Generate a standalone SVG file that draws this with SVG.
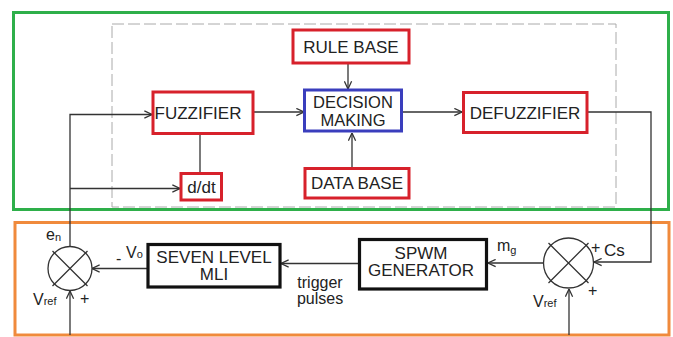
<svg xmlns="http://www.w3.org/2000/svg" width="673" height="337" viewBox="0 0 673 337">
  <style>
    .lbl { font-family: "Liberation Sans", Arial, sans-serif; font-size: 17px; fill: #222; }
    .lbl2 { font-family: "Liberation Sans", Arial, sans-serif; font-size: 16.5px; fill: #222; }
    .sm { font-family: "Liberation Sans", Arial, sans-serif; font-size: 16px; fill: #222; }
    .sub { font-size: 11px; }
    .red { fill: #fff; stroke: #d7212b; stroke-width: 3; }
    .blue { fill: #fff; stroke: #3a3ebd; stroke-width: 3; }
    .blk { fill: #fff; stroke: #111; stroke-width: 3.2; }
    .wire { fill: none; stroke: #333; stroke-width: 1.3; }
    .sum { fill: #fff; stroke: #333; stroke-width: 1.3; }
  </style>
  <defs>
    <marker id="arr" viewBox="0 0 10 10" refX="9.5" refY="5" markerWidth="9" markerHeight="9" markerUnits="userSpaceOnUse" orient="auto">
      <path d="M1,1 L9.5,5 L1,9" fill="none" stroke="#333" stroke-width="1.4"/>
    </marker>
  </defs>

  <rect width="673" height="337" fill="#fff"/>

  <!-- fuzzy controller frame -->
  <rect x="13.5" y="12.5" width="655" height="197" fill="none" stroke="#2eaf4a" stroke-width="3"/>
  <!-- converter frame -->
  <rect x="15" y="222.5" width="654" height="112.5" fill="none" stroke="#f08a3c" stroke-width="3"/>
  <!-- inference engine boundary -->
  <rect x="112" y="24" width="504" height="183" fill="none" stroke="#aaa" stroke-width="1" stroke-dasharray="12 4"/>

  <g id="connectors">
    <path class="wire" d="M348,63 V89" marker-end="url(#arr)"/>
    <path class="wire" d="M352,168 V133" marker-end="url(#arr)"/>
    <path class="wire" d="M254,112 H304" marker-end="url(#arr)"/>
    <path class="wire" d="M402,112 H462" marker-end="url(#arr)"/>
    <path class="wire" d="M200,134 V173"/>
    <path class="wire" d="M70,247 V114.5 H152" marker-end="url(#arr)"/>
    <path class="wire" d="M70,188.5 H180" marker-end="url(#arr)"/>
    <path class="wire" d="M587,112 H651 V262 H594" marker-end="url(#arr)"/>
    <path class="wire" d="M543,263 H488" marker-end="url(#arr)"/>
    <path class="wire" d="M359,263.5 H281" marker-end="url(#arr)"/>
    <path class="wire" d="M148,268.5 H92" marker-end="url(#arr)"/>
    <path class="wire" d="M70,335 V291" marker-end="url(#arr)"/>
    <path class="wire" d="M569,335 V289" marker-end="url(#arr)"/>
  </g>

  <g id="rule-base">
    <rect class="red" x="293" y="30" width="116" height="33"/>
    <text class="lbl" x="351" y="52.5" text-anchor="middle">RULE BASE</text>
  </g>
  <g id="decision-making">
    <rect class="blue" x="304.5" y="90" width="97" height="41"/>
    <text class="lbl2" x="353" y="107.5" text-anchor="middle">DECISION</text>
    <text class="lbl2" x="353" y="126" text-anchor="middle">MAKING</text>
  </g>
  <g id="data-base">
    <rect class="red" x="305" y="168.5" width="104" height="29.5"/>
    <text class="lbl" x="357" y="189" text-anchor="middle">DATA BASE</text>
  </g>
  <g id="fuzzifier">
    <rect class="red" x="153" y="92" width="100" height="41.5"/>
    <text class="lbl" x="198" y="118.5" text-anchor="middle">FUZZIFIER</text>
  </g>
  <g id="ddt">
    <rect class="red" x="181" y="173.5" width="40.5" height="26.5"/>
    <text class="lbl" x="201.5" y="193" text-anchor="middle">d/dt</text>
  </g>
  <g id="defuzzifier">
    <rect class="red" x="463.5" y="92.5" width="123.5" height="40"/>
    <text class="lbl" x="525" y="118.5" text-anchor="middle">DEFUZZIFIER</text>
  </g>

  <g id="mli">
    <rect class="blk" x="148" y="244.5" width="132" height="42.5"/>
    <text class="lbl" x="214" y="262.5" text-anchor="middle">SEVEN LEVEL</text>
    <text class="lbl" x="214" y="280" text-anchor="middle">MLI</text>
  </g>
  <g id="spwm">
    <rect class="blk" x="359.5" y="239.5" width="127" height="49.5"/>
    <text class="lbl" x="421" y="258.5" text-anchor="middle">SPWM</text>
    <text class="lbl" x="421" y="276" text-anchor="middle">GENERATOR</text>
  </g>
  <g id="trigger-label">
    <text class="sm" x="320" y="288" text-anchor="middle">trigger</text>
    <text class="sm" x="320" y="303.5" text-anchor="middle">pulses</text>
  </g>

  <g id="sum-voltage">
    <circle class="sum" cx="70" cy="268.5" r="22"/>
    <path class="wire" d="M52.5,251 L87.5,286 M87.5,251 L52.5,286"/>
    <text class="sm" x="46" y="240">e<tspan class="sub" dy="1">n</tspan></text>
    <text class="sm" x="116" y="264">-</text>
    <text class="sm" x="126" y="258">V<tspan class="sub">o</tspan></text>
    <text class="sm" x="33" y="305">V<tspan class="sub">ref</tspan></text>
    <text class="sm" x="80" y="304">+</text>
  </g>

  <g id="sum-modulation">
    <circle class="sum" cx="568.5" cy="263" r="25"/>
    <path class="wire" d="M548.5,243 L588.5,283 M588.5,243 L548.5,283"/>
    <text class="sm" x="497" y="251">m<tspan class="sub" dy="3">g</tspan></text>
    <text class="sm" x="591" y="253">+</text>
    <text class="lbl" x="604" y="256">Cs</text>
    <text class="sm" x="588" y="296">+</text>
    <text class="sm" x="533" y="307">V<tspan class="sub">ref</tspan></text>
  </g>
</svg>
